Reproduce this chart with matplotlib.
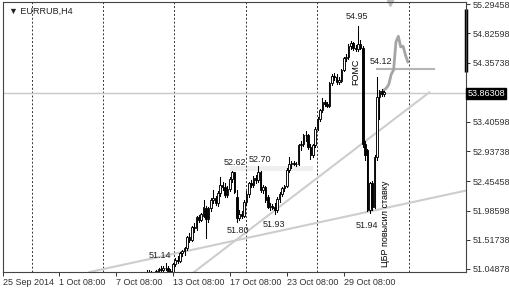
import matplotlib
matplotlib.use('Agg')
import matplotlib.pyplot as plt
from matplotlib.patches import Rectangle

plt.rcParams['font.family'] = ['Liberation Sans', 'DejaVu Sans']

# H4 candles, bar index 59..160
start = 59
opens  = [50.90, 50.95, 51.00, 50.97, 50.93, 50.96, 51.01, 51.05, 51.03, 51.07, 51.06, 51.01,
          50.99, 51.13, 51.20, 51.18, 51.30, 51.33, 51.38, 51.56, 51.52, 51.72, 51.70, 51.88,
          51.84, 51.90, 52.02, 51.85, 52.02, 52.15, 52.19, 52.10, 52.27, 52.40, 52.37, 52.23,
          52.33, 52.49, 52.60, 52.20, 51.87, 51.93, 51.90, 52.12, 52.25, 52.42, 52.40, 52.50,
          52.47, 52.60, 52.31, 52.36, 52.20, 52.04, 52.06, 52.05, 51.99, 52.17, 52.25, 52.34,
          52.38, 52.63, 52.73, 52.75, 52.73, 52.74, 53.03, 53.06, 53.19, 53.20, 53.00, 52.88,
          53.03, 53.30, 53.45, 53.60, 53.72, 53.70, 53.67, 54.03, 54.15, 54.13, 54.05, 54.06,
          54.24, 54.43, 54.45, 54.63, 54.67, 54.60, 54.58, 54.66, 54.60, 53.05, 52.95, 52.00,
          52.42, 52.05, 52.85, 53.80, 53.90, 53.85]
highs  = [50.98, 51.04, 51.03, 51.02, 50.99, 51.03, 51.07, 51.10, 51.09, 51.14, 51.09, 51.05,
          51.14, 51.22, 51.26, 51.32, 51.35, 51.40, 51.58, 51.62, 51.74, 51.78, 51.90, 51.92,
          51.95, 52.15, 52.06, 52.05, 52.18, 52.31, 52.22, 52.30, 52.52, 52.45, 52.42, 52.38,
          52.52, 52.62, 52.61, 52.32, 51.99, 51.98, 52.16, 52.30, 52.44, 52.48, 52.54, 52.56,
          52.70, 52.62, 52.40, 52.38, 52.24, 52.10, 52.09, 52.10, 52.20, 52.28, 52.36, 52.40,
          52.66, 52.84, 52.78, 52.78, 52.77, 53.05, 53.10, 53.22, 53.26, 53.22, 53.05, 53.06,
          53.33, 53.48, 53.62, 53.79, 53.76, 53.73, 54.05, 54.18, 54.19, 54.18, 54.12, 54.26,
          54.45, 54.50, 54.66, 54.70, 54.69, 54.64, 54.95, 54.72, 54.62, 53.10, 52.98, 52.45,
          52.46, 52.88, 54.12, 53.92, 53.94, 53.90]
lows   = [50.85, 50.92, 50.94, 50.90, 50.88, 50.93, 50.98, 51.01, 50.99, 51.03, 50.98, 50.95,
          50.97, 51.10, 51.15, 51.16, 51.25, 51.28, 51.36, 51.48, 51.50, 51.64, 51.68, 51.80,
          51.82, 51.88, 51.54, 51.80, 51.98, 52.10, 52.08, 52.06, 52.22, 52.32, 52.20, 52.20,
          52.30, 52.44, 52.26, 51.80, 51.84, 51.86, 51.88, 52.08, 52.20, 52.36, 52.36, 52.42,
          52.44, 52.28, 52.26, 52.12, 52.02, 52.00, 52.01, 51.93, 51.96, 52.12, 52.22, 52.30,
          52.36, 52.60, 52.66, 52.71, 52.70, 52.72, 52.95, 53.02, 53.10, 52.98, 52.82, 52.84,
          53.00, 53.27, 53.42, 53.56, 53.66, 53.64, 53.64, 54.00, 54.08, 54.02, 54.01, 54.04,
          54.22, 54.38, 54.42, 54.58, 54.56, 54.55, 54.55, 54.58, 53.00, 52.80, 51.98, 51.94,
          52.00, 52.02, 52.80, 53.45, 53.82, 53.82]
closes = [50.95, 51.00, 50.97, 50.93, 50.96, 51.01, 51.05, 51.03, 51.07, 51.06, 51.01, 50.99,
          51.13, 51.20, 51.18, 51.30, 51.33, 51.38, 51.56, 51.52, 51.72, 51.70, 51.88, 51.84,
          51.93, 52.05, 51.85, 52.02, 52.15, 52.19, 52.10, 52.27, 52.40, 52.37, 52.23, 52.33,
          52.49, 52.60, 52.28, 51.87, 51.93, 51.90, 52.12, 52.25, 52.42, 52.40, 52.50, 52.47,
          52.60, 52.31, 52.36, 52.15, 52.04, 52.06, 52.03, 51.99, 52.17, 52.25, 52.34, 52.38,
          52.63, 52.73, 52.75, 52.73, 52.74, 53.03, 53.06, 53.19, 53.20, 53.00, 52.88, 53.03,
          53.30, 53.45, 53.60, 53.72, 53.70, 53.67, 54.03, 54.15, 54.12, 54.05, 54.08, 54.24,
          54.43, 54.45, 54.63, 54.67, 54.60, 54.58, 54.66, 54.60, 53.05, 52.88, 52.00, 52.42,
          52.05, 52.85, 53.80, 53.90, 53.85, 53.88]

# gray forecast path after the last bar
proj_x = [160, 161, 162, 163, 164, 165, 166, 167, 168, 169, 170]
proj_y = [53.92, 53.95, 54.01, 54.17, 54.24, 54.69, 54.78, 54.61, 54.62, 54.48, 54.37]

# trend lines (bar, price)
trend1 = [(36, 51.00), (195, 52.31)]
trend2 = [(80, 51.00), (179, 53.88)]
level_line = (157, 181, 54.25)
band = (95, 130, 52.62, 52.70)
last_price = 53.86308

yticks = [55.29458, 54.82598, 54.35738, 53.40598, 52.93738, 52.45458, 51.98598, 51.51738, 51.04878]
xtick_pos = [-0.5, 23, 47, 71, 95, 119, 143]
xtick_lab = ['25 Sep 2014', '1 Oct 08:00', '7 Oct 08:00', '13 Oct 08:00',
             '17 Oct 08:00', '23 Oct 08:00', '29 Oct 08:00']
grid_x = [11.7, 41.6, 71.5, 101.9, 131.8, 170.5]

# price labels: text, bar, price, pixel offset
marks = [('54.95', 149, 54.95, (-1, 9)), ('54.12', 157, 54.12, (4, 16)),
         ('52.62', 96, 52.62, (3, 8)), ('52.70', 107, 52.70, (2, 6)),
         ('51.80', 98, 51.80, (1, -8)), ('51.93', 114, 51.93, (-1, -10)),
         ('51.94', 154, 51.94, (-3, -12)), ('51.14', 68, 51.14, (-6, 8))]

fs = 6.5
fig = plt.figure(figsize=(5.1, 2.9), dpi=100)
ax = fig.add_axes([3/510, 18/290, 463/510, 270/290])
ax.set_xlim(-0.5, 194.5)
ax.set_ylim(51.00, 55.33)

for gx in grid_x:
    ax.axvline(gx, color='#333333', lw=0.7, ls=(0, (2, 2)), zorder=1)

ax.add_patch(Rectangle((band[0], band[2]), band[1]-band[0], band[3]-band[2],
                       facecolor='#efefef', edgecolor='none', zorder=0.5))
ax.axhline(last_price, color='#c8c8c8', lw=1, zorder=1)
ax.plot([p[0] for p in trend1], [p[1] for p in trend1], color='#cdcdcd', lw=1.5, zorder=1.5)
ax.plot([p[0] for p in trend2], [p[1] for p in trend2], color='#cdcdcd', lw=1.5, zorder=1.5)
ax.plot(level_line[:2], [level_line[2]]*2, color='#b5b5b5', lw=1.5, zorder=1.5)
ax.plot(proj_x, proj_y, color='#a5a5a5', lw=2, zorder=2)

w = 0.7
for k in range(len(opens)):
    i = start + k
    o, h, l, c = opens[k], highs[k], lows[k], closes[k]
    ax.plot([i, i], [l, h], color='black', lw=0.75, zorder=3)
    fc = 'white' if c >= o else 'black'
    ax.add_patch(Rectangle((i - w/2, min(o, c)), w, max(abs(c - o), 0.004),
                           facecolor=fc, edgecolor='black', lw=0.65, zorder=4))

for txt, bx, pr, off in marks:
    ax.annotate(txt, (bx, pr), xytext=off, textcoords='offset pixels',
                ha='center', va='center', fontsize=fs, color='#222222', zorder=6)

ax.text(148.2, 54.21, 'FOMC', rotation=90, ha='center', va='center', fontsize=fs, zorder=6)
ax.text(160.8, 51.77, 'ЦБР повысил ставку', rotation=90, ha='center', va='center',
        fontsize=fs, zorder=6)
ax.text(0.012, 0.955, '▼ EURRUB,H4', transform=ax.transAxes, fontsize=fs, color='#222222')

ax.yaxis.tick_right()
ax.set_yticks(yticks)
ax.set_yticklabels(['%.5f' % v for v in yticks])
ax.tick_params(axis='y', direction='out', length=3, width=0.7, labelsize=fs,
               colors='#333333', pad=2)
ax.set_xticks(xtick_pos)
ax.set_xticklabels(xtick_lab)
for lab in ax.get_xticklabels():
    lab.set_horizontalalignment('left')
ax.tick_params(axis='x', direction='out', length=3, width=0.7, labelsize=fs,
               colors='#333333', pad=1)

ax.text(1.003, (last_price - 51.00) / 4.33, '%.5f' % last_price, transform=ax.transAxes,
        fontsize=fs, color='white', va='center', ha='left',
        bbox=dict(boxstyle='square,pad=0.15', facecolor='black', edgecolor='black'))
ax.plot([1.0, 1.0], [0.74, 0.975], transform=ax.transAxes, color='black', lw=2.5,
        clip_on=False, solid_capstyle='butt')
ax.plot([0.835], [0.995], marker='v', color='#bbbbbb', markersize=5,
        transform=ax.transAxes, clip_on=False)

for s in ax.spines.values():
    s.set_color('#444444')
    s.set_linewidth(0.8)

fig.savefig('out.png', dpi=100)
